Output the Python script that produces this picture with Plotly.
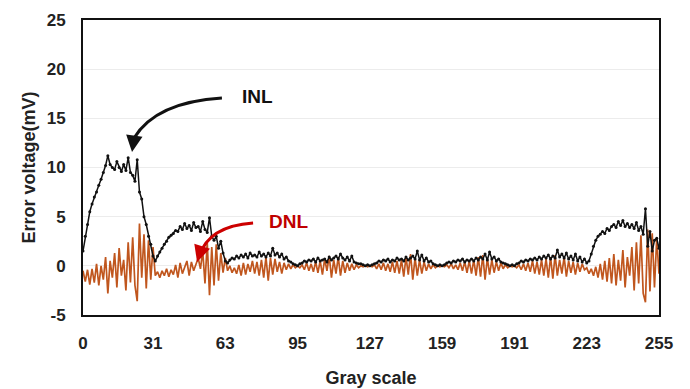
import plotly.graph_objects as go

gray = list(range(256))

inl = [
    1.5, 3.0, 4.2, 5.5, 6.3, 7.0, 7.5, 8.2, 8.8, 9.5, 10.2, 11.2, 10.3, 10.0, 9.8, 10.6,
    10.0, 9.6, 10.3, 9.7, 11.0, 9.5, 9.2, 8.6, 10.8, 7.5, 6.8, 5.0, 4.2, 3.0, 2.2, 1.0,
    0.5, 1.0, 1.4, 1.8, 2.2, 2.5, 2.9, 3.1, 3.3, 3.6, 3.5, 4.0, 3.7, 4.3, 3.8, 4.1,
    3.6, 4.4, 3.9, 4.0, 3.5, 4.5, 3.7, 3.4, 4.9, 3.0, 2.6, 3.0, 1.8, 2.5, 1.3, 0.5,
    0.3, 0.6, 0.8, 0.7, 1.0, 0.8, 1.1, 0.9, 1.2, 0.8, 1.3, 1.0, 1.1, 0.9, 1.4, 1.0,
    1.2, 0.9, 1.3, 1.0, 1.8, 1.1, 1.3, 0.9, 1.2, 0.7, 0.9, 0.5, 0.4, 0.2, 0.1, 0.0,
    0.2, 0.3, 0.5, 0.4, 0.6, 0.5, 0.7, 0.4, 0.8, 0.5, 0.6, 0.7, 0.4, 0.9, 0.6, 0.8,
    1.0, 0.7, 1.2, 0.8, 0.6, 0.9, 0.5, 1.0, 0.4, 0.3, 0.2, 0.2, 0.1, 0.0, 0.1, 0.0,
    0.1, 0.2, 0.3, 0.5, 0.4, 0.6, 0.5, 0.7, 0.4, 0.6, 0.5, 0.8, 0.6, 0.7, 0.5, 0.9,
    0.6, 0.8, 1.0, 0.7, 1.5, 0.6, 1.1, 0.5, 0.8, 0.4, 0.5, 0.2, 0.1, 0.0, 0.1, 0.0,
    0.1, 0.3, 0.4, 0.3, 0.5, 0.4, 0.6, 0.5, 0.7, 0.4, 0.6, 0.5, 0.7, 0.5, 0.8, 0.6,
    0.9, 0.7, 1.2, 0.6, 1.4, 0.7, 0.9, 0.5, 0.7, 0.4, 0.3, 0.2, 0.1, 0.0, 0.1, 0.0,
    0.2, 0.3, 0.5, 0.4, 0.6, 0.5, 0.7, 0.6, 0.8, 0.6, 0.9, 0.7, 1.0, 0.8, 1.1, 0.7,
    1.0, 0.8, 1.6, 0.9, 1.2, 0.8, 1.3, 0.7, 1.0, 0.6, 1.2, 0.5, 0.9, 0.4, 0.7, 0.3,
    0.5, 1.2, 2.0, 2.6, 3.0, 3.2, 3.5, 3.3, 3.8, 3.6, 4.0, 4.2, 3.9, 4.5, 4.1, 4.6,
    4.0, 4.3, 3.9, 4.2, 3.8, 4.4, 3.6, 4.0, 3.2, 5.8, 2.0, 3.5, 1.5, 2.6, 2.8, 1.8,
]

dnl = [
    -0.5, -1.6, -0.4, -1.9, -0.3, -1.7, 0.2, -2.0, 0.0, -1.4, 0.9, -2.8, 0.5, -1.2, 1.3, -2.2,
    1.8, -1.0, 0.6, -2.5, 2.4, -1.7, 2.9, -2.0, -3.6, 4.3, -1.2, 3.2, -2.3, 2.6, -1.4, 1.9,
    -1.0, -0.6, -1.2, -0.5, -1.0, -0.3, -1.1, -0.4, -0.9, 0.1, -1.2, 0.3, -0.8, -0.2, 0.5, -1.0,
    0.4, -0.5, 0.2, 0.8, -0.3, 1.5, -1.8, 2.4, -3.0, 1.9, -2.0, 2.2, -1.5, 1.3, -0.7, 0.8,
    -0.5, 0.0, -0.7, -0.2, -0.8, 0.1, -1.0, 0.3, -0.9, 0.2, -0.6, 0.5, -0.8, 0.4, -1.0, 0.6,
    -1.2, 0.9, -1.5, 0.8, -0.9, 0.7, -0.6, 0.4, -0.8, 0.3, -0.4, 0.2, -0.3, 0.1, -0.2, 0.0,
    -0.2, 0.1, -0.4, 0.3, -0.5, 0.2, -0.6, 0.4, -0.7, 0.5, -0.9, 0.7, -0.5, 1.0, -1.2, 0.6,
    -0.8, 0.9, -1.0, 0.5, -0.7, 0.3, -0.5, 0.2, -0.4, 0.1, -0.2, 0.0, -0.1, 0.0, -0.1, 0.0,
    -0.1, 0.1, -0.3, 0.2, -0.4, 0.3, -0.5, 0.2, -0.6, 0.4, -0.7, 0.5, -0.8, 0.6, -1.1, 0.9,
    -0.9, 1.2, -1.4, 0.8, -1.0, 0.6, -0.8, 0.4, -0.5, 0.2, -0.3, 0.1, -0.2, 0.0, -0.1, 0.0,
    -0.1, 0.1, -0.2, 0.2, -0.3, 0.1, -0.4, 0.3, -0.5, 0.4, -0.7, 0.5, -0.8, 0.6, -1.0, 0.9,
    -1.1, 1.1, -1.4, 0.8, -0.9, 0.6, -0.7, 0.4, -0.5, 0.3, -0.3, 0.1, -0.2, 0.0, -0.1, 0.0,
    -0.2, 0.1, -0.4, 0.2, -0.5, 0.3, -0.6, 0.5, -0.8, 0.4, -0.9, 0.6, -1.0, 0.7, -1.2, 0.9,
    -1.3, 1.1, -1.0, 0.6, -0.8, 0.9, -1.1, 0.5, -0.7, 0.4, -0.9, 0.3, -0.6, 0.2, -0.4, -0.2,
    -0.8, -0.3, -1.0, -0.1, -1.2, 0.2, -1.4, 0.5, -1.6, 0.8, -1.8, 1.2, -2.0, 0.6, -1.5, 1.6,
    -2.2, 0.9, -1.0, 1.9, -2.5, 2.4, -1.8, 3.1, -2.8, -3.7, 3.7, -2.6, 3.3, -2.2, 2.8, -0.8,
]

x_ticks = [0, 31, 63, 95, 127, 159, 191, 223, 255]
y_ticks = [-5, 0, 5, 10, 15, 20, 25]

FONT = "Liberation Sans, Arial, sans-serif"

fig = go.Figure()
fig.add_trace(go.Scatter(
    x=gray, y=dnl, mode="lines", name="DNL",
    line=dict(color="#c0561e", width=1.7),
))
fig.add_trace(go.Scatter(
    x=gray, y=inl, mode="lines+markers", name="INL",
    line=dict(color="#111111", width=1.5),
    marker=dict(color="#111111", size=3),
))

# curved arrows (INL)
fig.add_shape(type="path", xref="x", yref="y",
              path="M 61.5 17.07 Q 32.3 16.66 22.6 13.0",
              line=dict(color="#111111", width=3))
fig.add_annotation(x=21.7, y=11.58, ax=22.7, ay=13.2, xref="x", yref="y",
                   axref="x", ayref="y", text="", showarrow=True,
                   arrowhead=2, arrowsize=1.1, arrowwidth=3, arrowcolor="#111111")
# curved arrow (DNL)
fig.add_shape(type="path", xref="x", yref="y",
              path="M 75.3 4.36 Q 55.3 4.05 51.35 0.9",
              line=dict(color="#cc0000", width=3))
fig.add_annotation(x=50.5, y=0.39, ax=51.5, ay=1.1, xref="x", yref="y",
                   axref="x", ayref="y", text="", showarrow=True,
                   arrowhead=2, arrowsize=1.1, arrowwidth=3, arrowcolor="#cc0000")

fig.add_annotation(x=69.5, y=17.17, xref="x", yref="y", text="<b>INL</b>",
                   showarrow=False, xanchor="left",
                   font=dict(family=FONT, size=19, color="#111111"))
fig.add_annotation(x=81.5, y=4.46, xref="x", yref="y", text="<b>DNL</b>",
                   showarrow=False, xanchor="left",
                   font=dict(family=FONT, size=19, color="#c00000"))

fig.update_layout(
    width=682, height=381,
    margin=dict(l=75, r=31, t=12, b=74),
    paper_bgcolor="white", plot_bgcolor="white",
    showlegend=False,
    font=dict(family=FONT, color="#222222"),
    xaxis=dict(
        range=[0, 255], tickmode="array", tickvals=x_ticks,
        ticktext=[f"<b>{v}</b>" for v in x_ticks],
        tickfont=dict(size=17, family=FONT, color="#222222"),
        showgrid=False, zeroline=False,
        showline=True, linecolor="#111111", linewidth=2, mirror=True,
        ticks="", ticklabelstandoff=12, automargin=False,
        title=dict(text="<b>Gray scale</b>", font=dict(size=18, family=FONT, color="#222222"), standoff=19),
    ),
    yaxis=dict(
        range=[-5, 25], tickmode="array", tickvals=y_ticks,
        ticktext=[f"<b>{v}</b>" for v in y_ticks],
        tickfont=dict(size=17, family=FONT, color="#222222"),
        showgrid=True, gridcolor="#ececec", gridwidth=1, zeroline=False,
        showline=True, linecolor="#111111", linewidth=2, mirror=True,
        ticks="", ticklabelstandoff=12, automargin=False,
        title=dict(text="<b>Error voltage(mV)</b>", font=dict(size=18, family=FONT, color="#222222"), standoff=6),
    ),
)

fig.write_html("out.html")
